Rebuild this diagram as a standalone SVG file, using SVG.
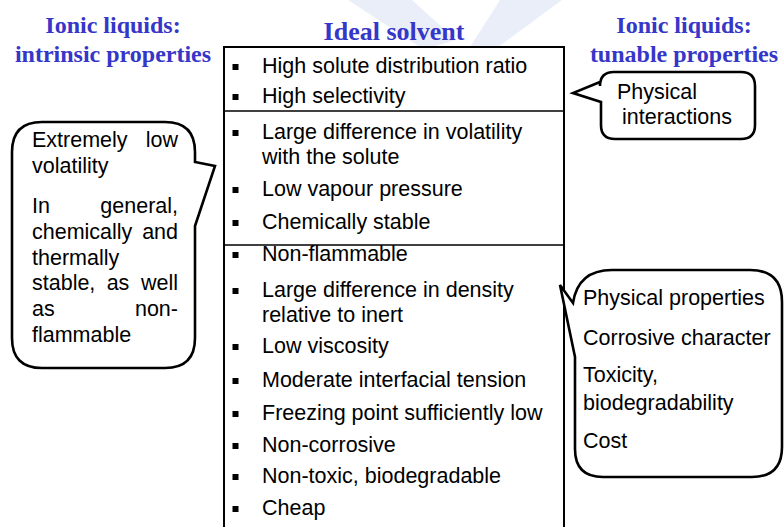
<svg xmlns="http://www.w3.org/2000/svg" width="784" height="527" viewBox="0 0 784 527">
<style>
.ttl{font-family:"Liberation Serif","Times New Roman",serif;font-weight:bold;fill:#3636C8;text-anchor:middle}
.t{font-family:"Liberation Sans",Arial,sans-serif;font-size:21.5px;fill:#000}
.e{text-anchor:end}
.m{text-anchor:middle}
.shape{fill:#fff;stroke:#000;stroke-width:2.6;stroke-linejoin:miter}
.bul{fill:#000}
.wm{fill:#E9EEF8}
</style>
<rect width="784" height="527" fill="#fff"/>
<g id="watermark">
<polygon class="wm" points="348,0 412,0 456,40 432,47 420,47"/>
<polygon class="wm" points="500,0 562,0 498,47 470,47"/>
</g>
<g id="title-intrinsic">
<text class="ttl" x="113" y="33" font-size="24">Ionic liquids:</text>
<text class="ttl" x="113" y="62" font-size="24">intrinsic properties</text>
</g>
<g id="title-ideal">
<text class="ttl" x="394" y="40" font-size="26">Ideal solvent</text>
</g>
<g id="title-tunable">
<text class="ttl" x="684" y="33" font-size="24">Ionic liquids:</text>
<text class="ttl" x="684" y="62" font-size="24">tunable properties</text>
</g>
<g id="ideal-solvent">
<path d="M224 530 V47 H564 V530" fill="#fff" stroke="#000" stroke-width="2"/>
<line x1="224" y1="111" x2="564" y2="111" stroke="#000" stroke-width="1.6"/>
<line x1="224" y1="245" x2="564" y2="245" stroke="#000" stroke-width="1.6"/>
<g class="bul">
<rect x="232.5" y="64" width="6" height="6"/>
<rect x="232.5" y="94" width="6" height="6"/>
<rect x="232.5" y="130" width="6" height="6"/>
<rect x="232.5" y="187" width="6" height="6"/>
<rect x="232.5" y="220" width="6" height="6"/>
<rect x="232.5" y="252" width="6" height="6"/>
<rect x="232.5" y="288" width="6" height="6"/>
<rect x="232.5" y="344" width="6" height="6"/>
<rect x="232.5" y="378" width="6" height="6"/>
<rect x="232.5" y="411" width="6" height="6"/>
<rect x="232.5" y="443" width="6" height="6"/>
<rect x="232.5" y="474" width="6" height="6"/>
<rect x="232.5" y="506" width="6" height="6"/>
</g>
<text class="t" x="262" y="73">High solute distribution ratio</text>
<text class="t" x="262" y="103">High selectivity</text>
<text class="t" x="262" y="139">Large difference in volatility</text>
<text class="t" x="262" y="164">with the solute</text>
<text class="t" x="262" y="196">Low vapour pressure</text>
<text class="t" x="262" y="229">Chemically stable</text>
<text class="t" x="262" y="261">Non-flammable</text>
<text class="t" x="262" y="297">Large difference in density</text>
<text class="t" x="262" y="322">relative to inert</text>
<text class="t" x="262" y="353">Low viscosity</text>
<text class="t" x="262" y="387">Moderate interfacial tension</text>
<text class="t" x="262" y="420">Freezing point sufficiently low</text>
<text class="t" x="262" y="452">Non-corrosive</text>
<text class="t" x="262" y="483">Non-toxic, biodegradable</text>
<text class="t" x="262" y="515">Cheap</text>
</g>
<g id="callout-intrinsic">
<path class="shape" d="M42 122 H165 Q195 122 195 152 V162 L215 166 L195 226 V338 Q195 368 165 368 H42 Q12 368 12 338 V152 Q12 122 42 122 Z"/>
<text class="t" x="32" y="147">Extremely</text>
<text class="t e" x="178" y="147">low</text>
<text class="t" x="32" y="173">volatility</text>
<text class="t" x="32" y="213">In</text>
<text class="t e" x="178" y="213">general,</text>
<text class="t" x="32" y="239">chemically</text>
<text class="t e" x="178" y="239">and</text>
<text class="t" x="32" y="265">thermally</text>
<text class="t" x="32" y="290">stable,</text>
<text class="t m" x="118" y="290">as</text>
<text class="t e" x="178" y="290">well</text>
<text class="t" x="32" y="316">as</text>
<text class="t e" x="178" y="316">non-</text>
<text class="t" x="32" y="342">flammable</text>
</g>
<g id="callout-physical-interactions">
<path class="shape" d="M614 72 H741 Q755 72 755 86 V125 Q755 139 741 139 H615 Q601 139 601 125 V102 L573 93 L600 82 V86 Q600 72 614 72 Z"/>
<text class="t" x="617" y="99">Physical</text>
<text class="t" x="622" y="124">interactions</text>
</g>
<g id="callout-tunable">
<path class="shape" d="M573 303 Q578 270 612 270 H750 Q782 270 782 302 V447 Q782 477 752 477 H603 Q575 477 575 449 V357 L560 285 Z"/>
<text class="t" x="583" y="305">Physical properties</text>
<text class="t" x="583" y="345">Corrosive character</text>
<text class="t" x="583" y="382">Toxicity,</text>
<text class="t" x="583" y="410">biodegradability</text>
<text class="t" x="583" y="448">Cost</text>
</g>
<g id="connectors"></g>
</svg>
